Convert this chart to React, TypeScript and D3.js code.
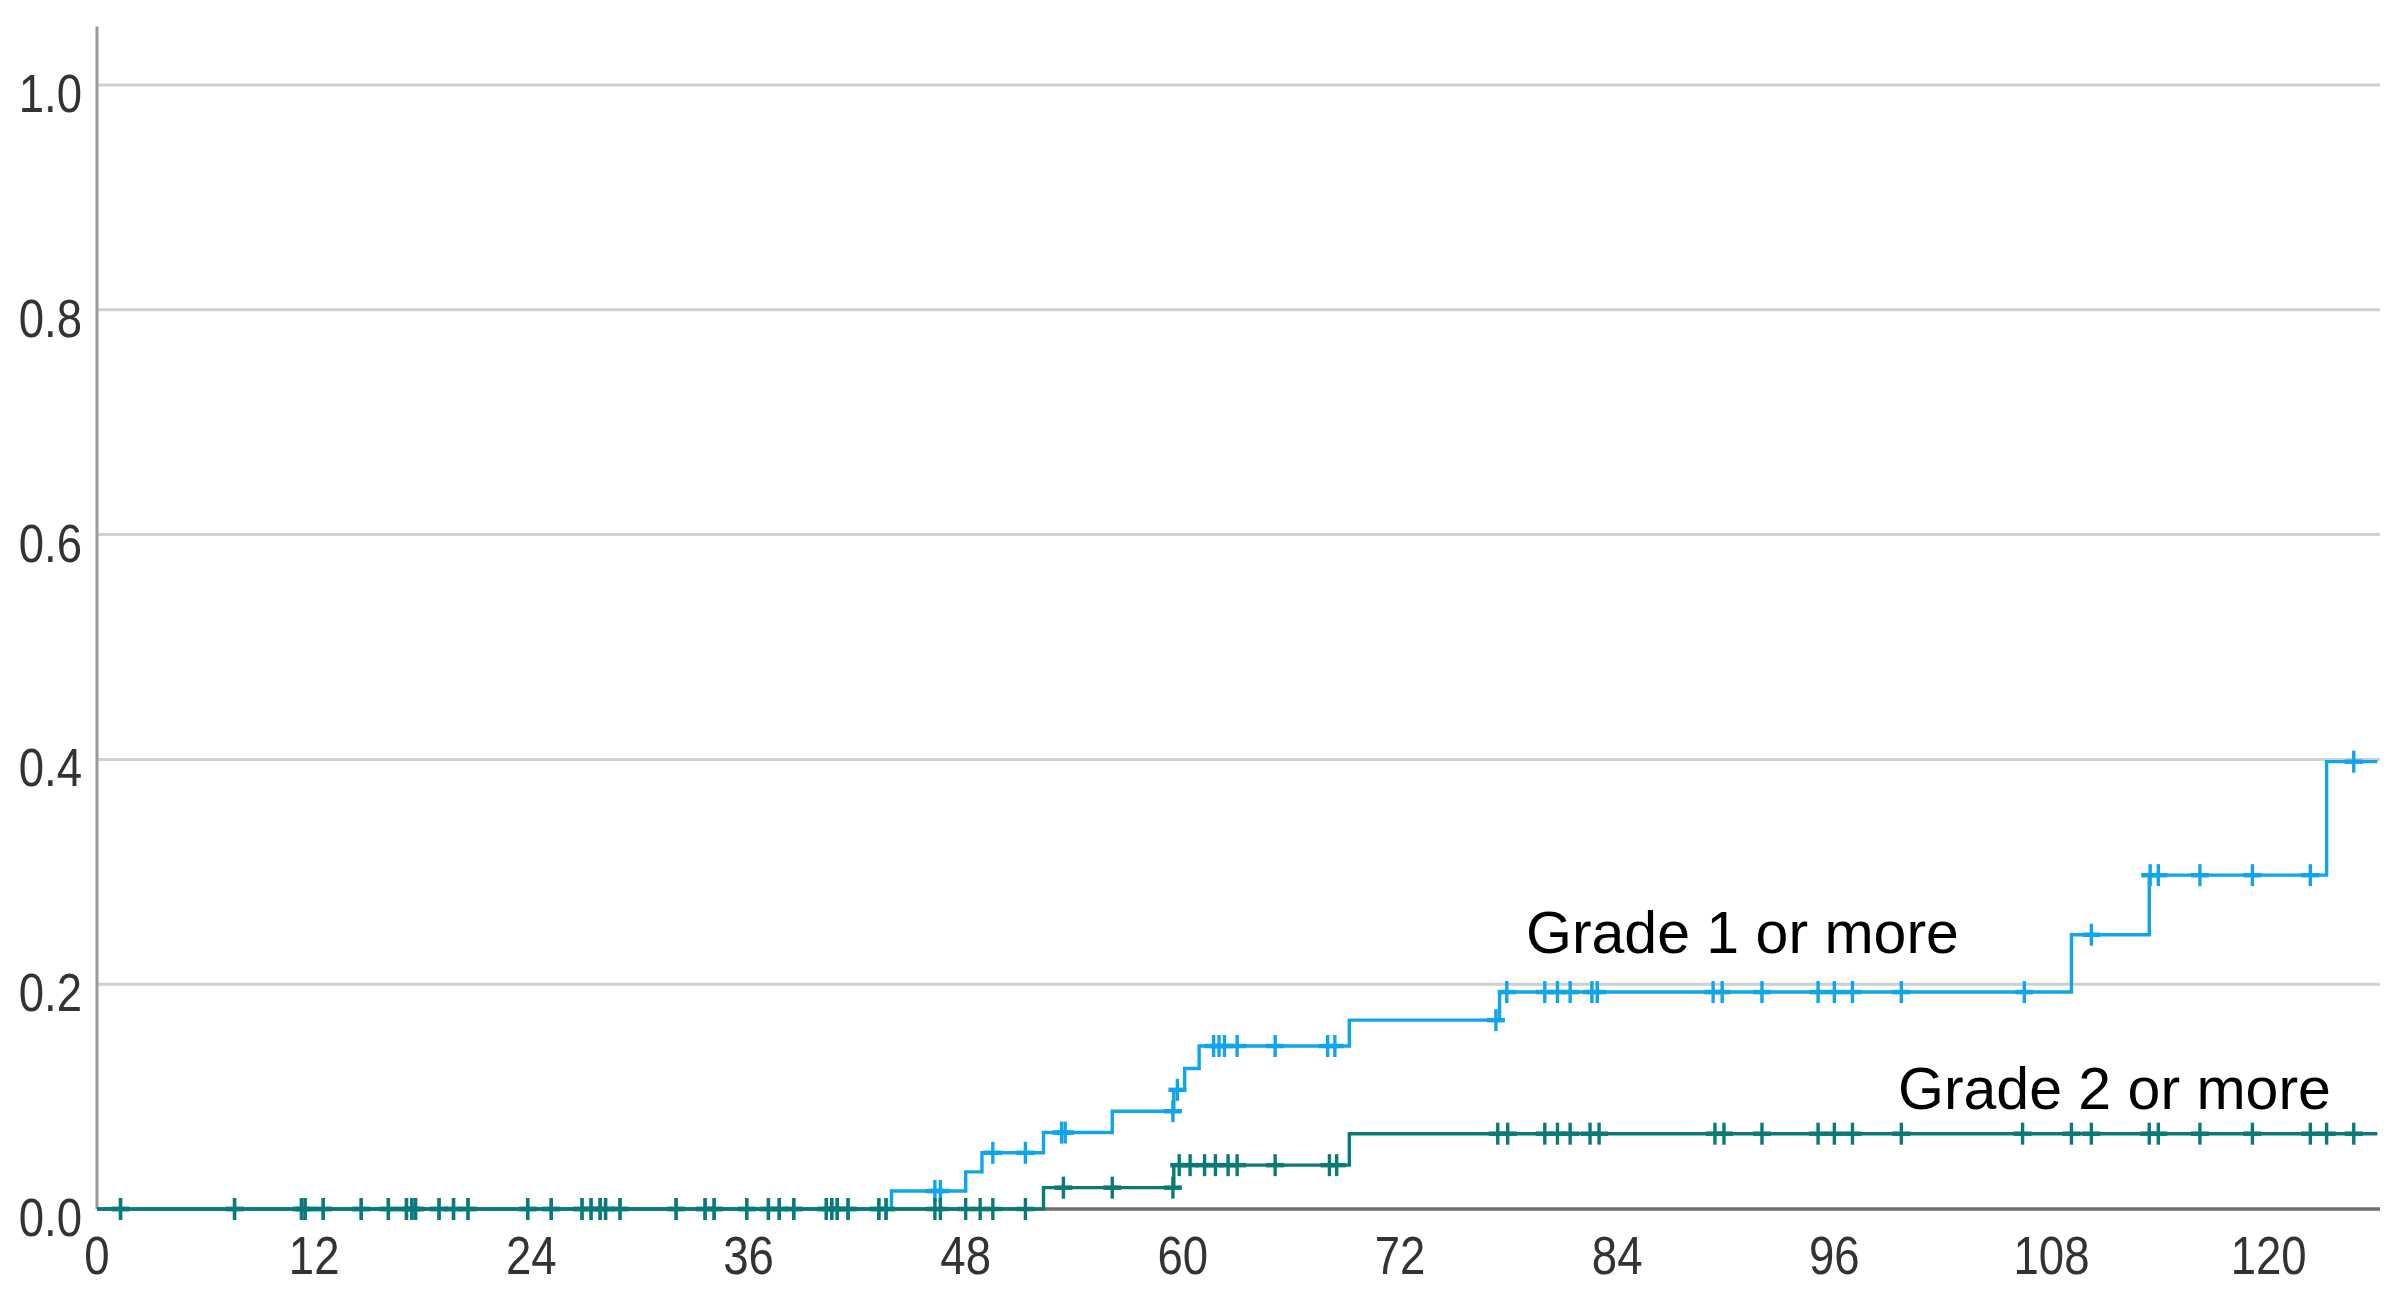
import React from "react";
import * as d3 from "d3";

const xTicks = [0, 12, 24, 36, 48, 60, 72, 84, 96, 108, 120];
const yTicks = [0, 0.2, 0.4, 0.6, 0.8, 1.0];

// Grade 1 or more (blue) step events
const blueTimes = [43.9, 48.0, 48.9, 52.3, 56.1, 59.5, 60.1, 60.9, 69.2, 77.5, 109.1, 113.4, 123.2];
const blueCum = [0.016, 0.033, 0.05, 0.068, 0.087, 0.106, 0.125, 0.145, 0.168, 0.193, 0.244, 0.297, 0.398];

// Grade 2 or more (teal) step events
const greenTimes = [52.3, 59.5, 69.2];
const greenCum = [0.019, 0.039, 0.067];

const endTime = 126.0;

// censored observations shared by both curves at level 0
const earlyCensor = [1.3, 7.6, 11.3, 11.5, 12.5, 14.6, 16.1, 17.1, 17.4, 17.6, 18.9, 19.7, 20.5, 23.8, 25.1, 26.8, 27.3, 27.8, 28.1, 28.9, 32.0, 33.6, 34.1, 35.9, 37.1, 37.7, 38.5, 40.3, 40.6, 40.9, 41.5, 43.2, 43.6];

const blueCensor = [46.3, 46.6, 49.5, 51.3, 53.3, 53.5, 59.45, 59.7, 61.7, 62.0, 62.3, 63.0, 65.1, 68.0, 68.4, 77.3, 77.9, 80.0, 80.7, 81.4, 82.6, 82.9, 89.3, 89.8, 92.0, 95.1, 96.0, 97.0, 99.7, 106.5, 110.2, 113.45, 113.9, 116.2, 119.1, 122.3, 124.7];

const greenCensor = [46.3, 46.6, 48.0, 48.8, 49.5, 51.3, 53.4, 56.1, 59.45, 59.8, 60.4, 61.2, 61.8, 62.5, 63.0, 65.1, 68.1, 68.5, 77.4, 77.95, 80.0, 80.7, 81.4, 82.5, 83.0, 89.4, 89.9, 92.0, 95.1, 96.0, 97.0, 99.7, 106.4, 109.1, 110.2, 113.4, 113.9, 116.2, 119.1, 122.3, 123.2, 124.7];

const BLUE = "#12a4ea";
const TEAL = "#0b7a76";

export default function App() {
  const W = 2405, H = 1291;
  const x = d3.scaleLinear().domain([0, 126.15]).range([97, 2380]);
  const y = d3.scaleLinear().domain([0, 1]).range([1209, 85]);

  const stepPath = (times: number[], cum: number[]) => {
    const pts: [number, number][] = [[0, 0]];
    times.forEach((t, i) => pts.push([t, cum[i]]));
    pts.push([endTime, cum[cum.length - 1]]);
    return d3.line<[number, number]>().x(d => x(d[0])).y(d => y(d[1])).curve(d3.curveStepAfter)(pts) || "";
  };

  const levelAt = (times: number[], cum: number[], t: number) => {
    const i = d3.bisectRight(times, t) - 1;
    return i < 0 ? 0 : cum[i];
  };

  const marks = (times: number[], cum: number[], cens: number[], color: string, key: string) =>
    cens.map((t, i) => {
      const cx = x(t), cy = y(levelAt(times, cum, t));
      return (
        <g key={key + i} stroke={color} strokeWidth={3.4}>
          <line x1={cx} x2={cx} y1={cy - 11} y2={cy + 11} />
          <line x1={cx - 9} x2={cx + 9} y1={cy} y2={cy} strokeWidth={4.5} />
        </g>
      );
    });

  const labelFont = "'Liberation Sans', Arial, sans-serif";

  return (
    <div style={{ position: "absolute", left: 0, top: 0, width: W, height: H, background: "#fff" }}>
      <svg width={W} height={H} style={{ display: "block" }}>
        <rect width={W} height={H} fill="#fff" />
        {yTicks.filter(v => v > 0).map(v => (
          <line key={"g" + v} x1={97} x2={2380} y1={y(v)} y2={y(v)} stroke="#cfcfcf" strokeWidth={3} />
        ))}
        <line x1={97} x2={97} y1={y(1.052)} y2={1209} stroke="#9a9a9a" strokeWidth={3} />
        <line x1={97} x2={2380} y1={1209} y2={1209} stroke="#6f6f6f" strokeWidth={3.5} />

        {yTicks.map(v => (
          <text key={"yl" + v} transform={`translate(82,${y(v) + 27}) scale(0.86,1)`} textAnchor="end"
            fontFamily={labelFont} fontSize={53} fill="#333">{v.toFixed(1)}</text>
        ))}
        {xTicks.map(v => (
          <text key={"xl" + v} transform={`translate(${x(v)},1274) scale(0.86,1)`} textAnchor="middle"
            fontFamily={labelFont} fontSize={53} fill="#333">{v}</text>
        ))}

        <path d={stepPath(blueTimes, blueCum)} fill="none" stroke={BLUE} strokeWidth={3.4} />
        {marks(blueTimes, blueCum, earlyCensor, BLUE, "be")}
        {marks(blueTimes, blueCum, blueCensor, BLUE, "bc")}

        <path d={stepPath(greenTimes, greenCum)} fill="none" stroke={TEAL} strokeWidth={3.4} />
        {marks(greenTimes, greenCum, earlyCensor, TEAL, "ge")}
        {marks(greenTimes, greenCum, greenCensor, TEAL, "gc")}

        <text x={1526} y={953} fontFamily={labelFont} fontSize={59} fill="#000">Grade 1 or more</text>
        <text x={1898} y={1109} fontFamily={labelFont} fontSize={59} fill="#000">Grade 2 or more</text>
      </svg>
    </div>
  );
}
